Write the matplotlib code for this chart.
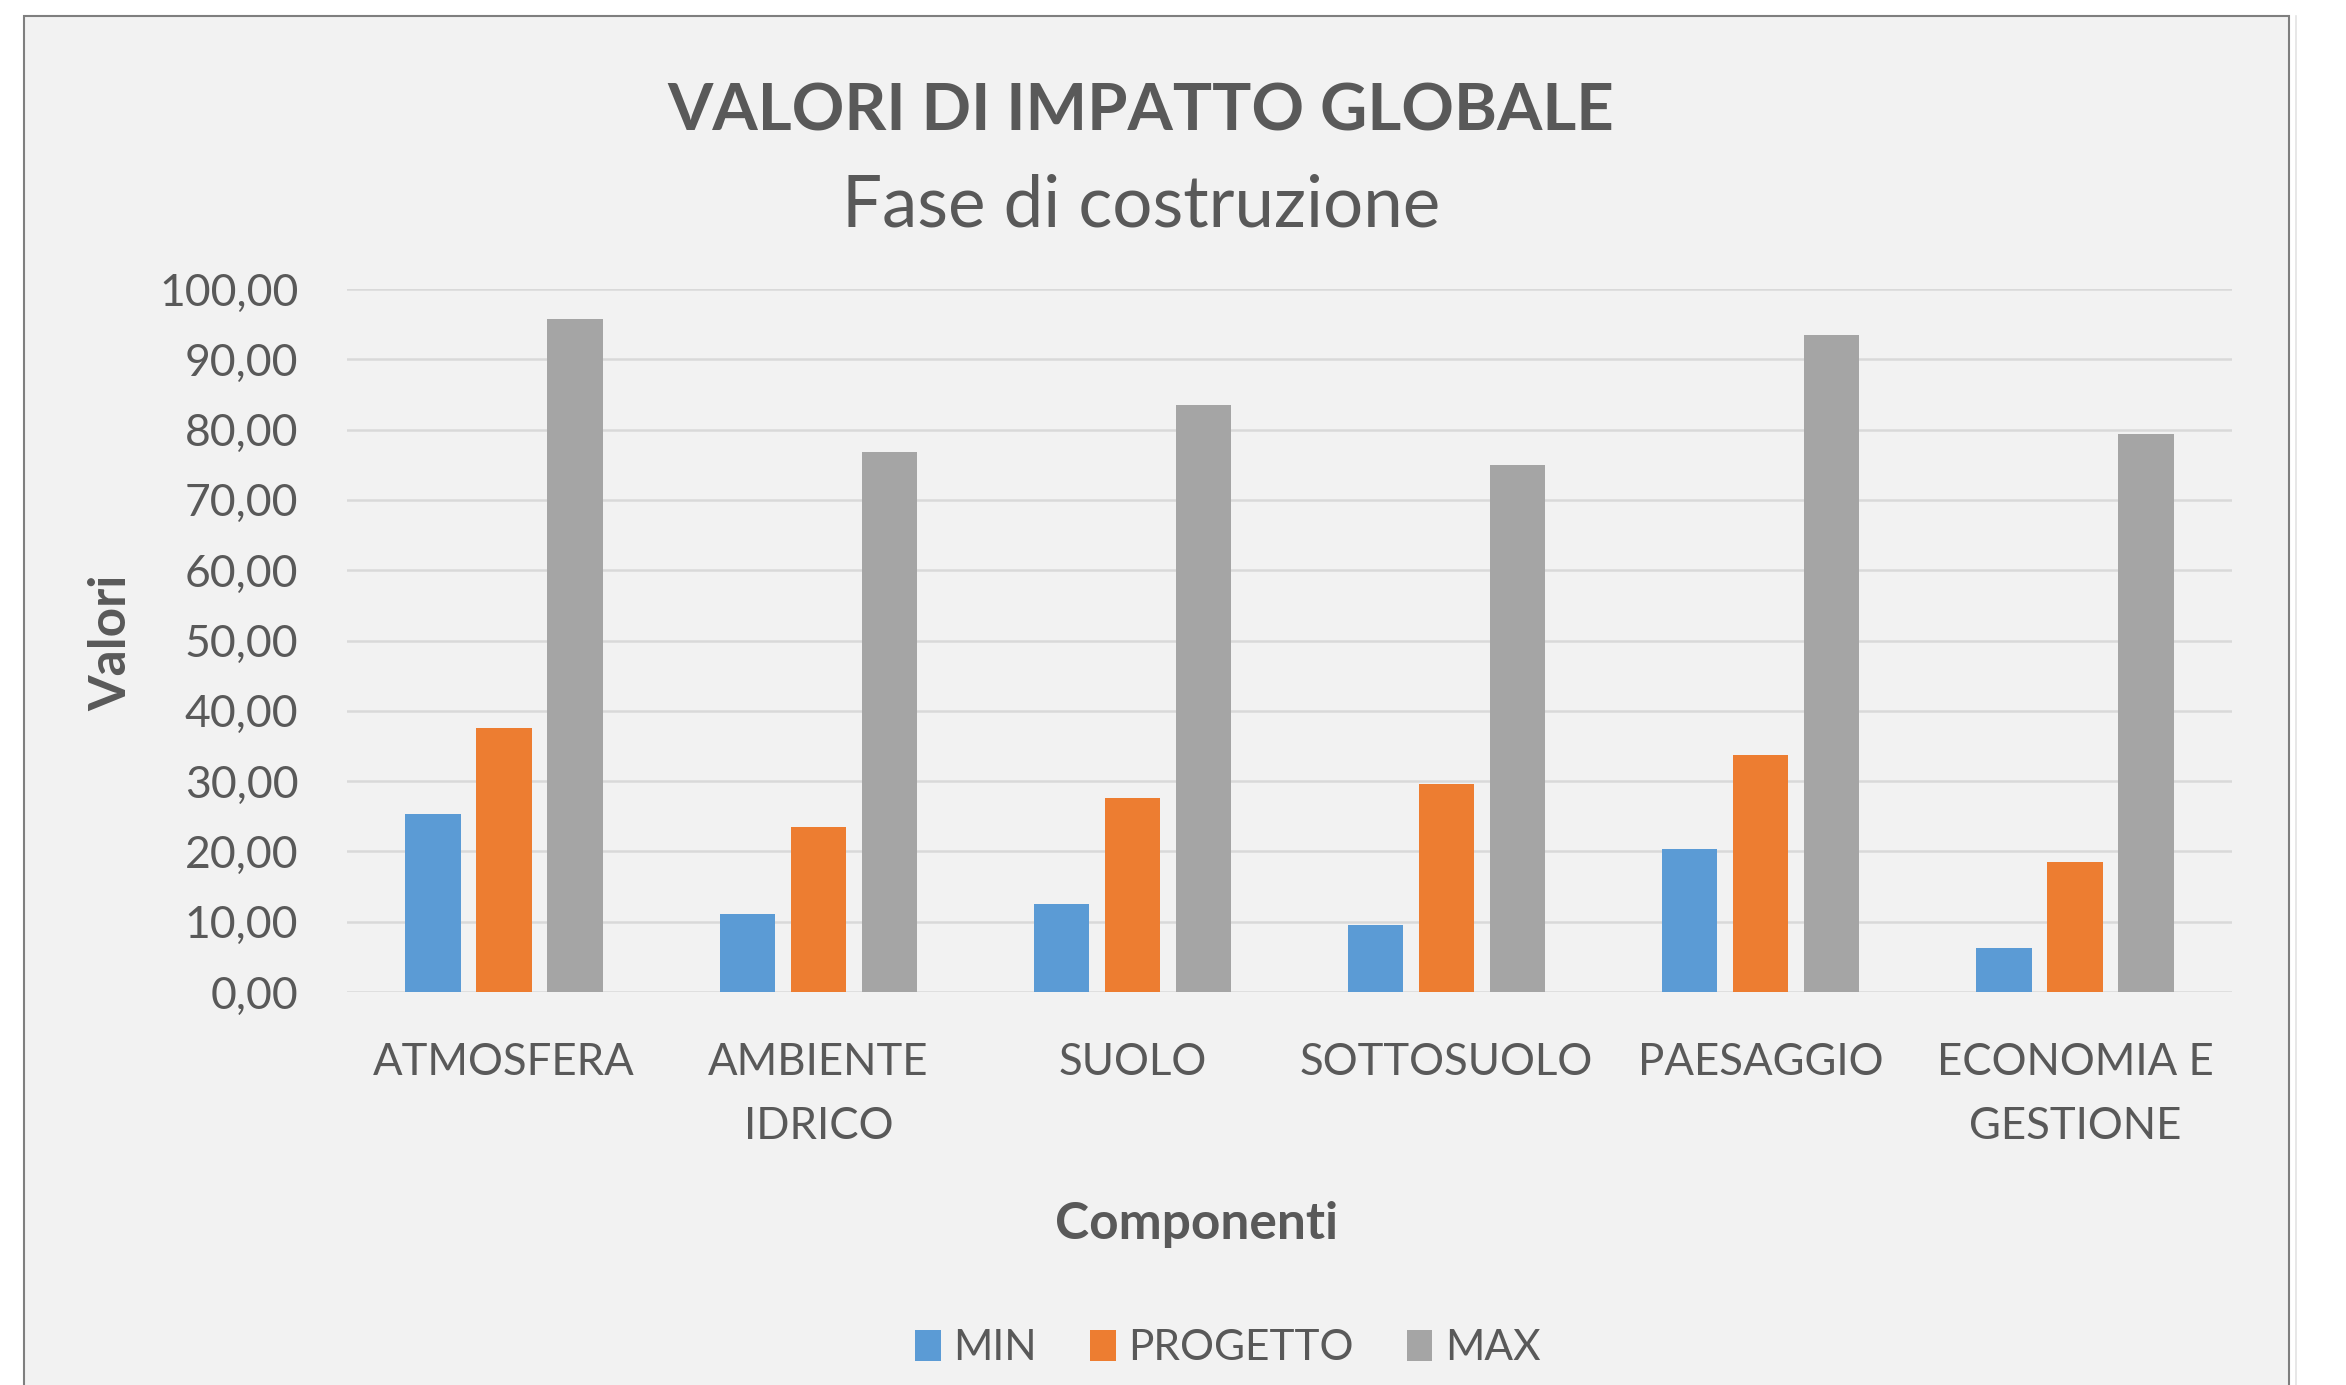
import matplotlib
matplotlib.use("Agg")
import matplotlib.pyplot as plt
from matplotlib.patches import Rectangle, Patch
from matplotlib.lines import Line2D
import numpy as np

categories = ["ATMOSFERA", "AMBIENTE\nIDRICO", "SUOLO", "SOTTOSUOLO", "PAESAGGIO", "ECONOMIA E\nGESTIONE"]
series_names = ["MIN", "PROGETTO", "MAX"]
min_vals = [25.3, 11.1, 12.5, 9.6, 20.4, 6.3]
prog_vals = [37.5, 23.4, 27.6, 29.6, 33.7, 18.5]
max_vals = [95.7, 76.8, 83.5, 75.0, 93.4, 79.4]
yticks = list(range(0, 101, 10))
ytick_labels = [f"{v},00" for v in yticks]

colors = ["#5B9BD5", "#ED7D31", "#A5A5A5"]
text_col = "#595959"
W, H = 2346, 1385
plt.rcParams['font.family'] = ['Lato', 'DejaVu Sans']

fig = plt.figure(figsize=(W / 100, H / 100), dpi=100)
fig.patch.set_facecolor("white")

# chart frame
fig.patches.append(Rectangle((24 / W, -0.05), (2289 - 24) / W, 1.05 - 16 / H,
                             transform=fig.transFigure, facecolor="#F2F2F2",
                             edgecolor="#7F7F7F", linewidth=1.5, zorder=-10))
fig.lines.append(Line2D([2296 / W, 2296 / W], [0, 1 - 16 / H], transform=fig.transFigure,
                        color="#E3E3E3", lw=1.2, zorder=-10))

ax = fig.add_axes([347 / W, 1 - 992 / H, (2232 - 347) / W, (992 - 289) / H])
ax.set_facecolor("#F2F2F2")
ax.patch.set_alpha(0)

x = np.arange(len(categories))
bw = 0.176
step = 0.226
for i, (vals, c, name) in enumerate(zip([min_vals, prog_vals, max_vals], colors, series_names)):
    ax.bar(x + (i - 1) * step, vals, width=bw, color=c, label=name, zorder=3)

ax.set_xlim(-0.5, len(categories) - 0.5)
ax.set_ylim(0, 100)
ax.set_yticks(yticks)
ax.set_yticklabels(ytick_labels)
ax.set_xticks(x)
ax.set_xticklabels(categories, linespacing=1.7)
ax.yaxis.grid(True, color="#D9D9D9", lw=1.8, zorder=0)
ax.set_axisbelow(True)
for s in ax.spines.values():
    s.set_visible(False)
ax.tick_params(axis='y', length=0, pad=35, labelsize=32, labelcolor=text_col)
ax.tick_params(axis='x', length=0, pad=36, labelsize=31.5, labelcolor=text_col)
for lab in ax.get_xticklabels():
    lab.set_verticalalignment('top')

fig.text(1141 / W, 1 - 112 / H, "VALORI DI IMPATTO GLOBALE", ha="center", va="center",
         fontsize=47, fontweight="bold", color=text_col)
fig.text(1141 / W, 1 - 206 / H, "Fase di costruzione", ha="center", va="center",
         fontsize=51, color=text_col)
fig.text(112 / W, 1 - 643 / H, "Valori", ha="center", va="center", rotation=90,
         fontsize=37, fontweight="bold", color=text_col)
fig.text(1197 / W, 1 - 1224 / H, "Componenti", ha="center", va="center",
         fontsize=37, fontweight="bold", color=text_col)

handles = [Patch(facecolor=c, edgecolor="none") for c in colors]
leg = fig.legend(handles, series_names, loc="center", bbox_to_anchor=(1228 / W, 1 - 1348 / H),
                 ncol=3, frameon=False, fontsize=30.5, handlelength=0.6, handleheight=0.75,
                 handletextpad=0.3, columnspacing=1.25, labelcolor=text_col)

fig.savefig("out.png", dpi=100, facecolor="white")
